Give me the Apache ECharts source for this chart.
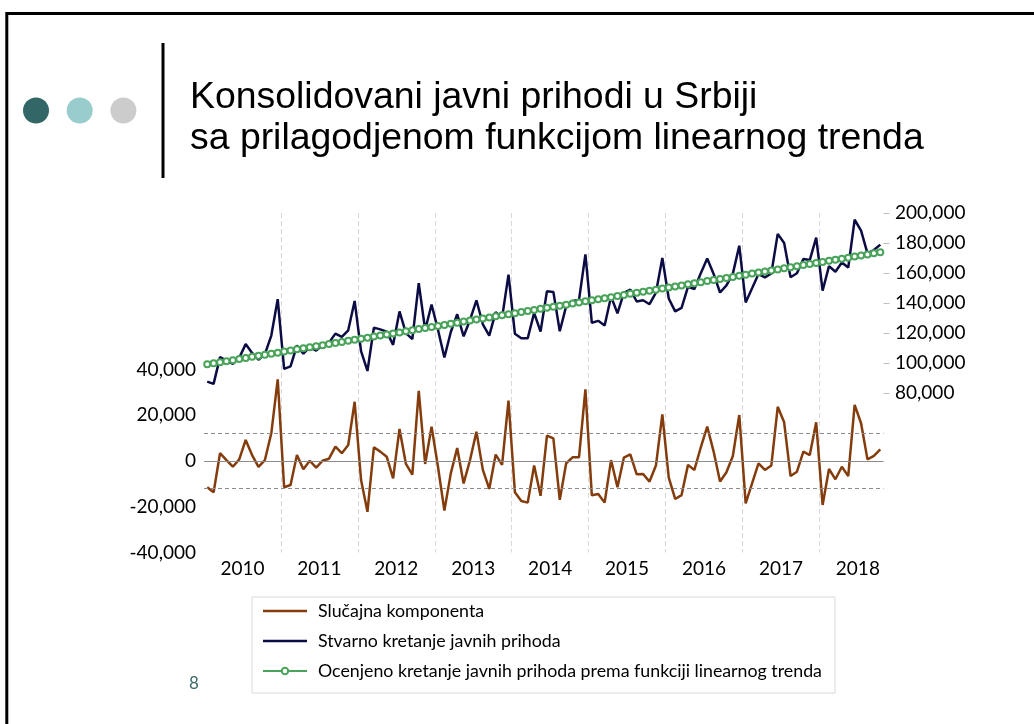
<!DOCTYPE html>
<html><head><meta charset="utf-8">
<script src="https://cdn.jsdelivr.net/npm/echarts@6/dist/echarts.min.js"></script>
<style>html,body{margin:0;padding:0;background:#fff;overflow:hidden}#c{width:1034px;height:724px}</style>
</head><body><div id="c"></div>
<script>
const years = ['2010','2011','2012','2013','2014','2015','2016','2017','2018'];
const leftTicks = [-40000,-20000,0,20000,40000];
const rightTicks = [80000,100000,120000,140000,160000,180000,200000];
const seriesNames = ['Slučajna komponenta','Stvarno kretanje javnih prihoda','Ocenjeno kretanje javnih prihoda prema funkciji linearnog trenda'];
const titleLines = ['Konsolidovani javni prihodi u Srbiji','sa prilagodjenom funkcijom linearnog trenda'];
const pageNumber = '8';
const bandLevels = [12100, -12100];

const residual = [-11500,-13700,3400,400,-2500,700,9200,2600,-2600,400,12100,35700,
-11500,-10500,2600,-3600,100,-2900,100,1000,6300,3400,7000,25900,
-8300,-22200,6000,4100,1900,-7600,14000,-1300,-6000,30700,-1300,15000,
-2500,-21700,-5400,5700,-9800,400,12800,-3900,-12200,2800,-1700,26400,
-13700,-17500,-18200,-2000,-15200,11100,9900,-17000,-1000,1600,1600,31300,
-15000,-14400,-18200,400,-11500,1500,2900,-5800,-5700,-9000,-2000,20400,
-7300,-16600,-14900,-1700,-3900,6000,15000,4100,-9000,-4900,2200,20100,
-18500,-9800,-1000,-3900,-2000,23700,16900,-6600,-4700,4100,2600,16900,
-19200,-3500,-8000,-2500,-6600,24500,16500,700,2200,5100];

const actual = [87600,86100,103900,101600,99400,103400,112600,106700,102200,105900,118300,142600,
96100,97800,111700,106200,110600,108300,112000,113600,119600,117400,121800,141400,
107900,94700,123600,122400,120900,112100,134400,119900,115900,153300,122000,139000,
122200,103700,120700,132500,117800,128700,141800,125800,118200,133900,130100,158900,
119500,116500,116500,133400,120900,147900,147400,121200,137900,141300,142000,172400,
126800,128100,125000,144300,133100,146800,149000,141000,141800,139200,146900,170000,
143000,134400,136800,150800,149300,159900,169600,159400,147000,151800,159600,178200,
140400,149800,159300,157100,159700,186100,180000,157200,159800,169400,168600,183600,
148200,164600,160800,167000,163600,195500,188200,173100,175300,178900];

const trend = [99100,99800,100500,101200,101900,102700,103400,104100,104800,105500,106200,106900,
107600,108300,109100,109800,110500,111200,111900,112600,113300,114000,114800,115500,
116200,116900,117600,118300,119000,119700,120400,121200,121900,122600,123300,124000,
124700,125400,126100,126800,127600,128300,129000,129700,130400,131100,131800,132500,
133200,134000,134700,135400,136100,136800,137500,138200,138900,139700,140400,141100,
141800,142500,143200,143900,144600,145300,146100,146800,147500,148200,148900,149600,
150300,151000,151700,152500,153200,153900,154600,155300,156000,156700,157400,158100,
158900,159600,160300,161000,161700,162400,163100,163800,164500,165300,166000,166700,
167400,168100,168800,169500,170200,171000,171700,172400,173100,173800];

const months = [];
years.forEach(y => { for (let m = 1; m <= 12; m++) months.push(y + '-' + (m < 10 ? '0' + m : m)); });
months.length = actual.length;

const nMonths = months.length;
const yearBoundaries = years.slice(1).map((y, i) => (i + 1) * 12);
const yearCenters = years.map((y, i) => i * 12 + 6);

const fmt = v => Number(v).toLocaleString('en-US');
const labelFont = 'Lato';
const lineIcon = 'path://M0,0 L46,0 L46,2.5 L0,2.5 Z';

const chart = echarts.init(document.getElementById('c'), null, {renderer: 'canvas'});
chart.setOption({
  animation: false,
  backgroundColor: '#fff',
  graphic: [
    {type: 'rect', shape: {x: 6.8, y: 13.5, width: 2000, height: 2000}, style: {fill: 'none', stroke: '#000', lineWidth: 3}, z: 10},
    {type: 'circle', shape: {cx: 36, cy: 110.5, r: 13}, style: {fill: '#336666'}},
    {type: 'circle', shape: {cx: 79.7, cy: 110.5, r: 13}, style: {fill: '#99cccc'}},
    {type: 'circle', shape: {cx: 123.4, cy: 110.5, r: 13}, style: {fill: '#cccccc'}},
    {type: 'line', shape: {x1: 163, y1: 43, x2: 163, y2: 178}, style: {stroke: '#000', lineWidth: 3}},
    {type: 'text', style: {x: 190, y: 97.5, text: titleLines[0], fontFamily: 'Liberation Sans', fontSize: 37.4, fill: '#000', verticalAlign: 'middle'}},
    {type: 'text', style: {x: 190, y: 138.5, text: titleLines[1], fontFamily: 'Liberation Sans', fontSize: 37.4, fill: '#000', verticalAlign: 'middle'}},
    {type: 'text', style: {x: 194, y: 684, text: pageNumber, fontFamily: labelFont, fontSize: 17, fill: '#3d6b6b', align: 'center', verticalAlign: 'middle'}}
  ],
  grid: {left: 204, right: 150.5, top: 213, bottom: 171.5, containLabel: false},
  legend: {
    orient: 'vertical', left: 252, top: 597,
    data: [
      {name: seriesNames[0], icon: lineIcon},
      {name: seriesNames[1], icon: lineIcon},
      {name: seriesNames[2]}
    ],
    itemWidth: 44, itemHeight: 8, itemGap: 12,
    padding: [5, 13, 13, 10],
    borderColor: '#d9d9d9', borderWidth: 1, backgroundColor: '#fff',
    textStyle: {fontFamily: labelFont, fontSize: 17.8, color: '#000', lineHeight: 18, padding: [0, 0, 0, 6]}
  },
  xAxis: [
    {type: 'category', data: months, boundaryGap: true, gridIndex: 0,
     axisLine: {show: false}, axisTick: {show: false}, axisLabel: {show: false}, splitLine: {show: false}},
    {type: 'value', min: 0, max: nMonths, gridIndex: 0, position: 'bottom',
     axisLine: {show: false},
     axisTick: {show: false, customValues: yearBoundaries},
     axisLabel: {customValues: yearCenters, formatter: v => years[Math.round((v - 6) / 12)], fontFamily: labelFont, fontSize: 19, color: '#000', margin: 7},
     splitLine: {show: true, lineStyle: {color: '#d9d9d9', type: [5, 3], width: 1}}}
  ],
  yAxis: [
    {type: 'value', position: 'left', min: -40000, max: 108400,
     axisLine: {show: false}, axisTick: {show: false, customValues: leftTicks},
     axisLabel: {customValues: leftTicks, formatter: fmt, fontFamily: labelFont, fontSize: 19, color: '#000', margin: 8, padding: [0, 0, 5, 0]},
     splitLine: {show: false}},
    {type: 'value', position: 'right', min: -26333, max: 200000,
     axisLine: {show: false},
     axisTick: {show: true, customValues: rightTicks, length: 6, lineStyle: {color: '#bfbfbf', width: 1}},
     axisLabel: {customValues: rightTicks, formatter: fmt, fontFamily: labelFont, fontSize: 19, color: '#000', margin: 11.5, padding: [0, 0, 5, 0]},
     splitLine: {show: false}}
  ],
  series: [
    {name: seriesNames[0], type: 'line', xAxisIndex: 0, yAxisIndex: 0, data: residual,
     symbol: 'none', lineStyle: {color: '#843c0c', width: 2.5}, itemStyle: {color: '#843c0c'}, z: 2,
     markLine: {silent: true, symbol: 'none', label: {show: false},
       data: [
         {yAxis: 0, lineStyle: {color: '#8c8c8c', type: 'solid', width: 1}},
         {yAxis: bandLevels[0], lineStyle: {color: '#8c8c8c', type: [4, 3], width: 1}},
         {yAxis: bandLevels[1], lineStyle: {color: '#8c8c8c', type: [4, 3], width: 1}}
       ]}},
    {name: seriesNames[1], type: 'line', xAxisIndex: 0, yAxisIndex: 1, data: actual,
     symbol: 'none', lineStyle: {color: '#0c0c44', width: 2.5}, itemStyle: {color: '#0c0c44'}, z: 3},
    {name: seriesNames[2], type: 'line', xAxisIndex: 0, yAxisIndex: 1, data: trend,
     symbol: 'emptyCircle', symbolSize: 6, showAllSymbol: true,
     lineStyle: {color: '#4aa35a', width: 2}, itemStyle: {color: '#4aa35a', borderWidth: 1.5}, z: 4}
  ]
});
</script></body></html>
